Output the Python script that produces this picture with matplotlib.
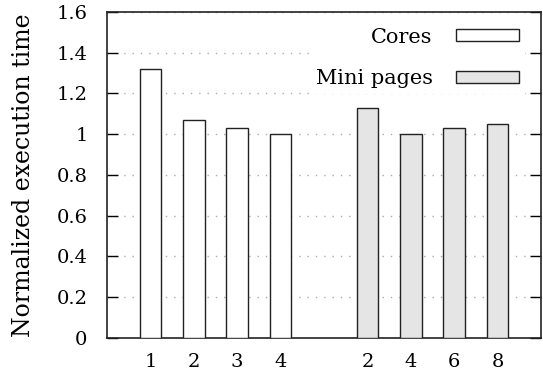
import numpy as np
import matplotlib.pyplot as plt

# Datos
cores = ['1', '2', '3', '4']
cores_time = [1.32, 1.07, 1.03, 1.00]
mini_pages = ['2', '4', '6', '8']
mini_time = [1.13, 1.00, 1.03, 1.05]
y_ticks = [0, 0.2, 0.4, 0.6, 0.8, 1.0, 1.2, 1.4, 1.6]
y_labels = ['0', '0.2', '0.4', '0.6', '0.8', '1', '1.2', '1.4', '1.6']

plt.rcParams['font.family'] = ['DejaVu Serif']

fig = plt.figure(figsize=(5.43, 3.75), dpi=100)
ax = fig.add_axes([0.197, 0.099, 0.7993, 0.869])

x_cores = np.arange(1, len(cores) + 1)
x_mini = np.arange(len(cores) + 2, len(cores) + 2 + len(mini_pages))

ax.bar(x_cores, cores_time, width=0.5, color='white', edgecolor='#222222',
       linewidth=1.0, label='Cores', zorder=3)
ax.bar(x_mini, mini_time, width=0.5, color='#e5e5e5', edgecolor='#222222',
       linewidth=1.0, label='Mini pages', zorder=3)

ax.set_xlim(0, 10)
ax.set_ylim(0, 1.6)
ax.set_yticks(y_ticks)
ax.set_yticklabels(y_labels)
ax.set_xticks(np.concatenate([x_cores, x_mini]))
ax.set_xticklabels(cores + mini_pages)

ax.tick_params(axis='y', direction='in', length=8, width=1, pad=14,
               right=True, labelsize=14)
ax.tick_params(axis='x', length=0, pad=11, labelsize=14)
ax.set_ylabel('Normalized execution time', fontsize=17)
ax.yaxis.set_label_coords(-0.165, 0.5)

for s in ax.spines.values():
    s.set_linewidth(1.2)
    s.set_color('#222222')

ax.yaxis.grid(True, linestyle=(0, (1, 5)), color='#aaaaaa', linewidth=1.0)
ax.set_axisbelow(True)

leg = ax.legend(loc='upper right', markerfirst=False, frameon=True,
                fontsize=15, handlelength=3.03, handleheight=0.48,
                handletextpad=1.1, labelspacing=1.08, borderaxespad=0.45,
                borderpad=0.3, bbox_to_anchor=(0.985, 1.0))
leg.get_frame().set_edgecolor('none')
leg.get_frame().set_facecolor('white')
leg.get_frame().set_alpha(1)
leg.get_frame().set_boxstyle('square', pad=0)
for t in leg.get_texts():
    t.set_ha('right')
leg.set_zorder(5)

plt.savefig('out.png', dpi=100)
